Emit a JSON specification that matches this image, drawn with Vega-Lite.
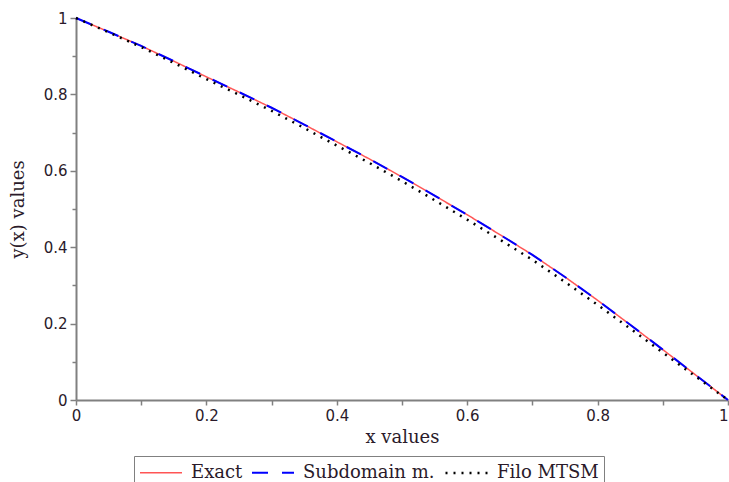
{
  "$schema": "https://vega.github.io/schema/vega-lite/v6.json",
  "width": 652,
  "height": 382,
  "autosize": "none",
  "padding": {"left": 76, "top": 18, "right": 1, "bottom": 82},
  "background": "white",
  "config": {
    "view": {"stroke": null},
    "axis": {
      "domainColor": "#808080",
      "domainWidth": 2,
      "tickColor": "#808080",
      "tickWidth": 1.5,
      "grid": false,
      "labelFont": "DejaVu Sans",
      "labelFontSize": 15,
      "labelColor": "#2a1a2a",
      "titleFont": "DejaVu Serif",
      "titleFontSize": 18,
      "titleFontWeight": "normal",
      "titleColor": "#2a1a2a"
    }
  },
  "data": {
    "values": [
      {"x": 0, "y": 1, "series": "Exact"},
      {"x": 0.05, "y": 0.964, "series": "Exact"},
      {"x": 0.1, "y": 0.927, "series": "Exact"},
      {"x": 0.15, "y": 0.887, "series": "Exact"},
      {"x": 0.2, "y": 0.846, "series": "Exact"},
      {"x": 0.25, "y": 0.806, "series": "Exact"},
      {"x": 0.3, "y": 0.765, "series": "Exact"},
      {"x": 0.35, "y": 0.721, "series": "Exact"},
      {"x": 0.4, "y": 0.676, "series": "Exact"},
      {"x": 0.45, "y": 0.631, "series": "Exact"},
      {"x": 0.5, "y": 0.584, "series": "Exact"},
      {"x": 0.55, "y": 0.535, "series": "Exact"},
      {"x": 0.6, "y": 0.485, "series": "Exact"},
      {"x": 0.65, "y": 0.433, "series": "Exact"},
      {"x": 0.7, "y": 0.38, "series": "Exact"},
      {"x": 0.75, "y": 0.322, "series": "Exact"},
      {"x": 0.8, "y": 0.261, "series": "Exact"},
      {"x": 0.85, "y": 0.197, "series": "Exact"},
      {"x": 0.9, "y": 0.132, "series": "Exact"},
      {"x": 0.95, "y": 0.066, "series": "Exact"},
      {"x": 1, "y": 0, "series": "Exact"},
      {"x": 0, "y": 1, "series": "Subdomain m."},
      {"x": 0.05, "y": 0.964, "series": "Subdomain m."},
      {"x": 0.1, "y": 0.927, "series": "Subdomain m."},
      {"x": 0.15, "y": 0.887, "series": "Subdomain m."},
      {"x": 0.2, "y": 0.846, "series": "Subdomain m."},
      {"x": 0.25, "y": 0.806, "series": "Subdomain m."},
      {"x": 0.3, "y": 0.765, "series": "Subdomain m."},
      {"x": 0.35, "y": 0.721, "series": "Subdomain m."},
      {"x": 0.4, "y": 0.676, "series": "Subdomain m."},
      {"x": 0.45, "y": 0.631, "series": "Subdomain m."},
      {"x": 0.5, "y": 0.584, "series": "Subdomain m."},
      {"x": 0.55, "y": 0.535, "series": "Subdomain m."},
      {"x": 0.6, "y": 0.485, "series": "Subdomain m."},
      {"x": 0.65, "y": 0.433, "series": "Subdomain m."},
      {"x": 0.7, "y": 0.38, "series": "Subdomain m."},
      {"x": 0.75, "y": 0.322, "series": "Subdomain m."},
      {"x": 0.8, "y": 0.261, "series": "Subdomain m."},
      {"x": 0.85, "y": 0.197, "series": "Subdomain m."},
      {"x": 0.9, "y": 0.132, "series": "Subdomain m."},
      {"x": 0.95, "y": 0.066, "series": "Subdomain m."},
      {"x": 1, "y": 0, "series": "Subdomain m."},
      {"x": 0, "y": 1, "series": "Filo MTSM"},
      {"x": 0.05, "y": 0.9625, "series": "Filo MTSM"},
      {"x": 0.1, "y": 0.924, "series": "Filo MTSM"},
      {"x": 0.15, "y": 0.8825, "series": "Filo MTSM"},
      {"x": 0.2, "y": 0.84, "series": "Filo MTSM"},
      {"x": 0.25, "y": 0.799, "series": "Filo MTSM"},
      {"x": 0.3, "y": 0.757, "series": "Filo MTSM"},
      {"x": 0.35, "y": 0.712, "series": "Filo MTSM"},
      {"x": 0.4, "y": 0.666, "series": "Filo MTSM"},
      {"x": 0.45, "y": 0.6205, "series": "Filo MTSM"},
      {"x": 0.5, "y": 0.573, "series": "Filo MTSM"},
      {"x": 0.55, "y": 0.523, "series": "Filo MTSM"},
      {"x": 0.6, "y": 0.472, "series": "Filo MTSM"},
      {"x": 0.65, "y": 0.42, "series": "Filo MTSM"},
      {"x": 0.7, "y": 0.367, "series": "Filo MTSM"},
      {"x": 0.75, "y": 0.309, "series": "Filo MTSM"},
      {"x": 0.8, "y": 0.249, "series": "Filo MTSM"},
      {"x": 0.85, "y": 0.187, "series": "Filo MTSM"},
      {"x": 0.9, "y": 0.124, "series": "Filo MTSM"},
      {"x": 0.95, "y": 0.062, "series": "Filo MTSM"},
      {"x": 1, "y": 0, "series": "Filo MTSM"}
    ]
  },
  "mark": {"type": "line", "clip": false},
  "encoding": {
    "x": {
      "field": "x",
      "type": "quantitative",
      "scale": {"domain": [0, 1], "nice": false, "zero": false},
      "axis": {
        "title": "x values",
        "values": [0, 0.1, 0.2, 0.3, 0.4, 0.5, 0.6, 0.7, 0.8, 0.9, 1],
        "format": "~g",
        "labelExpr": "round(datum.value*10)%2==0 ? datum.label : ''",
        "labelAlign": {"condition": {"test": "datum.value >= 1", "value": "right"}, "value": "center"},
        "tickSize": 5,
        "labelPadding": 3,
        "titlePadding": 5,
        "labelFlush": false
      }
    },
    "y": {
      "field": "y",
      "type": "quantitative",
      "scale": {"domain": [0, 1], "nice": false, "zero": false},
      "axis": {
        "title": "y(x) values",
        "values": [0, 0.1, 0.2, 0.3, 0.4, 0.5, 0.6, 0.7, 0.8, 0.9, 1],
        "format": "~g",
        "labelExpr": "round(datum.value*10)%2==0 ? datum.label : ''",
        "tickSize": {"condition": {"test": "round(datum.value*10)%2==0", "value": 6}, "value": 4},
        "labelPadding": 3,
        "titlePadding": 16,
        "labelFlush": false
      }
    },
    "color": {
      "field": "series",
      "type": "nominal",
      "sort": ["Exact", "Subdomain m.", "Filo MTSM"],
      "scale": {"domain": ["Exact", "Subdomain m.", "Filo MTSM"], "range": ["#ff5555", "#0000ff", "#000000"]},
      "legend": {
        "title": null,
        "orient": "none",
        "legendX": 58,
        "legendY": 438,
        "direction": "horizontal",
        "symbolType": "M-1,0H3",
        "symbolSize": 441,
        "symbolFillColor": "transparent",
        "labelFont": "DejaVu Serif",
        "labelFontSize": 18,
        "labelColor": "#2a1a2a",
        "labelOffset": 29,
        "columnPadding": 5,
        "strokeColor": "#808080",
        "padding": 5,
        "labelLimit": 300
      }
    },
    "strokeDash": {
      "field": "series",
      "type": "nominal",
      "sort": ["Exact", "Subdomain m.", "Filo MTSM"],
      "scale": {"domain": ["Exact", "Subdomain m.", "Filo MTSM"], "range": [[1, 0], [16, 14], [2, 6]]}
    },
    "strokeWidth": {
      "field": "series",
      "type": "ordinal",
      "sort": ["Exact", "Subdomain m.", "Filo MTSM"],
      "scale": {"domain": ["Exact", "Subdomain m.", "Filo MTSM"], "range": [1.5, 2.5, 2.5]}
    }
  }
}
